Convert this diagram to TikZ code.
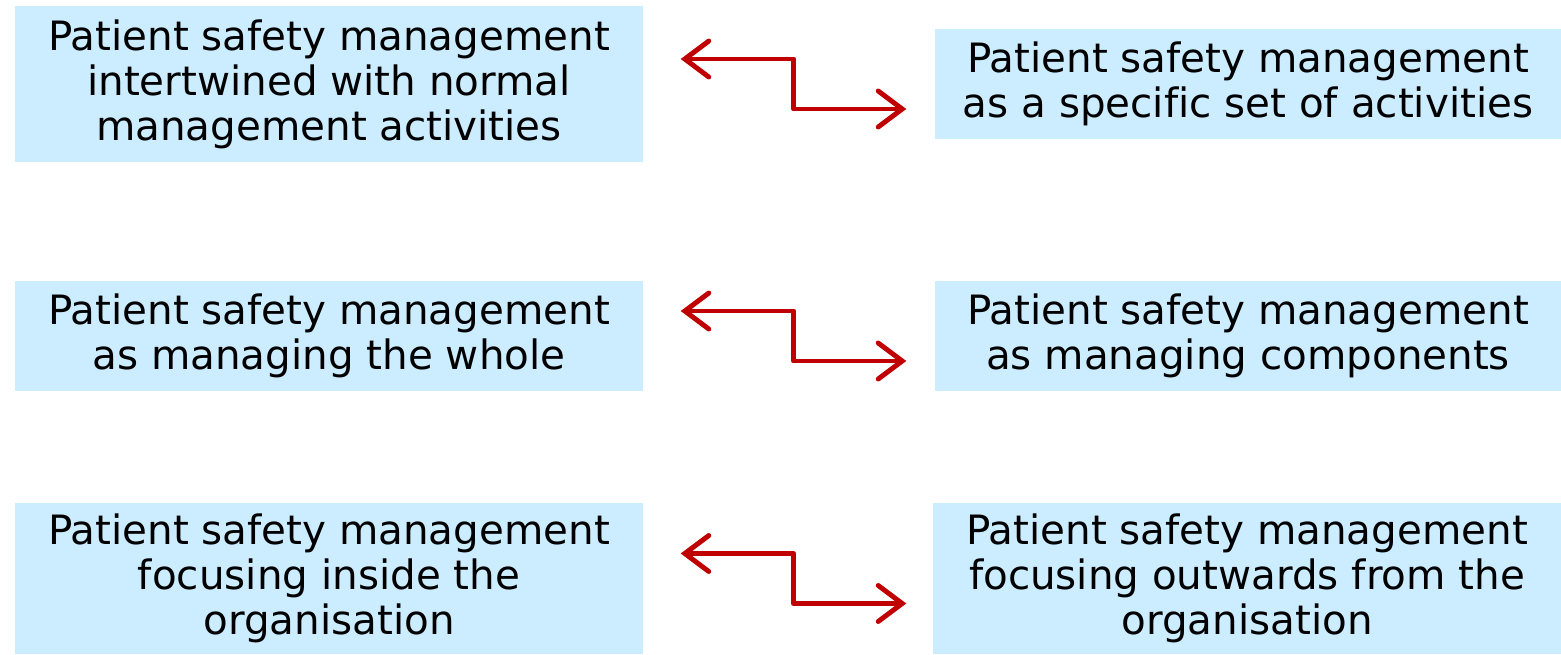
\documentclass[tikz,border=0pt]{standalone}
\usepackage{fontspec}
\setmainfont[Ligatures=NoCommon]{DejaVu Sans}
\usetikzlibrary{arrows.meta}
\definecolor{boxblue}{RGB}{204,236,255}
\definecolor{arrowred}{RGB}{192,0,0}
\tikzset{
  pole/.style={fill=boxblue,align=center,inner sep=0pt,minimum width=6.28cm,
    font=\fontsize{11.5}{12.8}\selectfont},
  swing/.style={draw=arrowred,line width=1.4pt,line cap=round,line join=round,
    {Straight Barb[length=2.4mm,width=3.6mm,line cap=round]}-{Straight Barb[length=2.4mm,width=3.6mm,line cap=round]}}
}
\begin{document}
\begin{tikzpicture}
\useasboundingbox (0,0) rectangle (15.61,6.54);
\node[pole,minimum height=1.56cm] (l1) at (3.29,5.70) {Patient safety management\\intertwined with normal\\management activities};
\node[pole,minimum height=1.10cm,minimum width=6.26cm] (r1) at (12.48,5.70) {Patient safety management\\as a specific set of activities};
\node[pole,minimum height=1.10cm] (l2) at (3.29,3.18) {Patient safety management\\as managing the whole};
\node[pole,minimum height=1.10cm,minimum width=6.26cm] (r2) at (12.48,3.18) {Patient safety management\\as managing components};
\node[pole,minimum height=1.51cm] (l3) at (3.29,0.755) {Patient safety management\\focusing inside the\\organisation};
\node[pole,minimum height=1.51cm] (r3) at (12.47,0.755) {Patient safety management\\focusing outwards from the\\organisation};
\draw[swing] ([xshift=3.7mm,yshift=2.5mm]l1.east) -- ++(1.13,0) |- ([xshift=-2.8mm,yshift=-2.5mm]r1.west);
\draw[swing] ([xshift=3.7mm,yshift=2.5mm]l2.east) -- ++(1.13,0) |- ([xshift=-2.8mm,yshift=-2.5mm]r2.west);
\draw[swing] ([xshift=3.7mm,yshift=2.5mm]l3.east) -- ++(1.13,0) |- ([xshift=-2.6mm,yshift=-2.5mm]r3.west);
\end{tikzpicture}
\end{document}
